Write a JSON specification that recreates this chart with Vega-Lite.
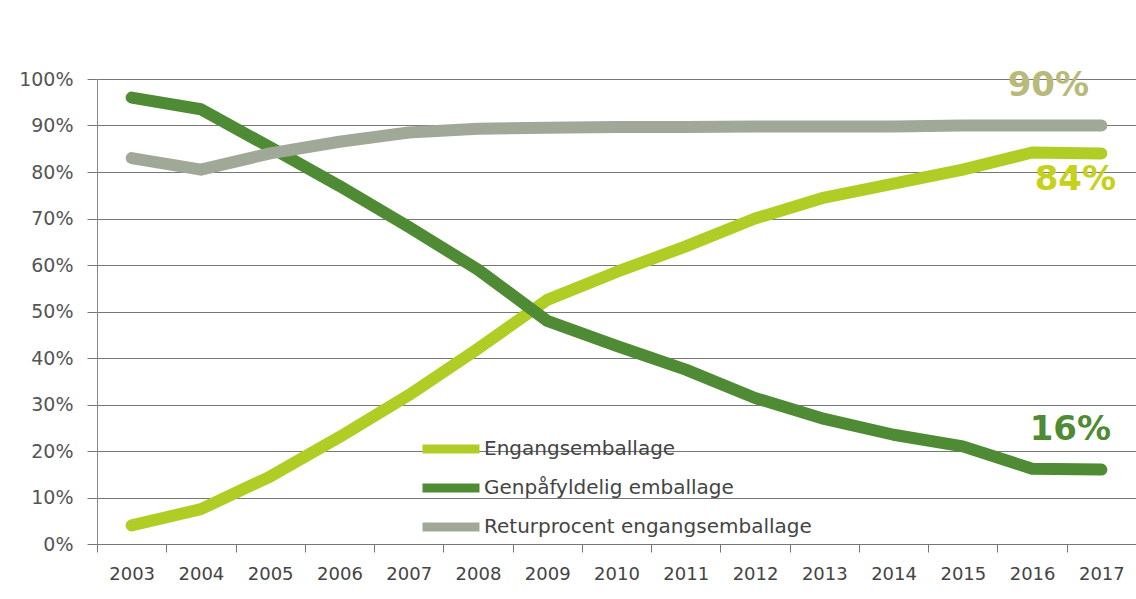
{
  "$schema": "https://vega.github.io/schema/vega-lite/v6.json",
  "width": 1039,
  "height": 465,
  "autosize": {"type": "none"},
  "padding": {"left": 97, "top": 79, "right": 0, "bottom": 55},
  "background": "white",
  "config": {"view": {"stroke": null}, "font": "DejaVu Sans"},
  "data": {"values": [
    {"Year": 2003, "Serie": "Engangsemballage", "Andel": 0.04},
    {"Year": 2004, "Serie": "Engangsemballage", "Andel": 0.075},
    {"Year": 2005, "Serie": "Engangsemballage", "Andel": 0.145},
    {"Year": 2006, "Serie": "Engangsemballage", "Andel": 0.23},
    {"Year": 2007, "Serie": "Engangsemballage", "Andel": 0.32},
    {"Year": 2008, "Serie": "Engangsemballage", "Andel": 0.42},
    {"Year": 2009, "Serie": "Engangsemballage", "Andel": 0.525},
    {"Year": 2010, "Serie": "Engangsemballage", "Andel": 0.585},
    {"Year": 2011, "Serie": "Engangsemballage", "Andel": 0.64},
    {"Year": 2012, "Serie": "Engangsemballage", "Andel": 0.70},
    {"Year": 2013, "Serie": "Engangsemballage", "Andel": 0.745},
    {"Year": 2014, "Serie": "Engangsemballage", "Andel": 0.775},
    {"Year": 2015, "Serie": "Engangsemballage", "Andel": 0.805},
    {"Year": 2016, "Serie": "Engangsemballage", "Andel": 0.842},
    {"Year": 2017, "Serie": "Engangsemballage", "Andel": 0.84},
    {"Year": 2003, "Serie": "Genpåfyldelig emballage", "Andel": 0.96},
    {"Year": 2004, "Serie": "Genpåfyldelig emballage", "Andel": 0.935},
    {"Year": 2005, "Serie": "Genpåfyldelig emballage", "Andel": 0.853},
    {"Year": 2006, "Serie": "Genpåfyldelig emballage", "Andel": 0.77},
    {"Year": 2007, "Serie": "Genpåfyldelig emballage", "Andel": 0.682},
    {"Year": 2008, "Serie": "Genpåfyldelig emballage", "Andel": 0.59},
    {"Year": 2009, "Serie": "Genpåfyldelig emballage", "Andel": 0.48},
    {"Year": 2010, "Serie": "Genpåfyldelig emballage", "Andel": 0.426},
    {"Year": 2011, "Serie": "Genpåfyldelig emballage", "Andel": 0.375},
    {"Year": 2012, "Serie": "Genpåfyldelig emballage", "Andel": 0.314},
    {"Year": 2013, "Serie": "Genpåfyldelig emballage", "Andel": 0.269},
    {"Year": 2014, "Serie": "Genpåfyldelig emballage", "Andel": 0.235},
    {"Year": 2015, "Serie": "Genpåfyldelig emballage", "Andel": 0.21},
    {"Year": 2016, "Serie": "Genpåfyldelig emballage", "Andel": 0.162},
    {"Year": 2017, "Serie": "Genpåfyldelig emballage", "Andel": 0.16},
    {"Year": 2003, "Serie": "Returprocent engangsemballage", "Andel": 0.83},
    {"Year": 2004, "Serie": "Returprocent engangsemballage", "Andel": 0.805},
    {"Year": 2005, "Serie": "Returprocent engangsemballage", "Andel": 0.84},
    {"Year": 2006, "Serie": "Returprocent engangsemballage", "Andel": 0.865},
    {"Year": 2007, "Serie": "Returprocent engangsemballage", "Andel": 0.885},
    {"Year": 2008, "Serie": "Returprocent engangsemballage", "Andel": 0.893},
    {"Year": 2009, "Serie": "Returprocent engangsemballage", "Andel": 0.895},
    {"Year": 2010, "Serie": "Returprocent engangsemballage", "Andel": 0.897},
    {"Year": 2011, "Serie": "Returprocent engangsemballage", "Andel": 0.897},
    {"Year": 2012, "Serie": "Returprocent engangsemballage", "Andel": 0.898},
    {"Year": 2013, "Serie": "Returprocent engangsemballage", "Andel": 0.898},
    {"Year": 2014, "Serie": "Returprocent engangsemballage", "Andel": 0.898},
    {"Year": 2015, "Serie": "Returprocent engangsemballage", "Andel": 0.90},
    {"Year": 2016, "Serie": "Returprocent engangsemballage", "Andel": 0.90},
    {"Year": 2017, "Serie": "Returprocent engangsemballage", "Andel": 0.90}
  ]},
  "encoding": {
    "x": {
      "field": "Year", "type": "ordinal", "bandPosition": 0.5,
      "scale": {"type": "band", "paddingInner": 0, "paddingOuter": 0},
      "axis": {"title": null, "tickBand": "extent", "labelAngle": 0, "labelFontSize": 18, "labelColor": "#444", "labelPadding": 13, "tickSize": 8, "tickColor": "#777", "domainColor": "#777", "grid": false}
    },
    "y": {
      "field": "Andel", "type": "quantitative",
      "scale": {"domain": [0, 1], "nice": false},
      "axis": {"title": null, "values": [0, 0.1, 0.2, 0.3, 0.4, 0.5, 0.6, 0.7, 0.8, 0.9, 1], "format": ".0%", "labelFontSize": 19, "labelColor": "#555", "labelPadding": 14, "tickSize": 10, "tickColor": "#777", "gridColor": "#777", "gridWidth": 1.2, "domainColor": "#888"}
    },
    "color": {
      "field": "Serie", "type": "nominal",
      "scale": {"domain": ["Engangsemballage", "Genpåfyldelig emballage", "Returprocent engangsemballage"], "range": ["#b0cd26", "#4f8b35", "#a0a998"]},
      "legend": {"orient": "none", "legendX": 321, "legendY": 360, "title": null, "symbolType": "stroke", "symbolStrokeWidth": 9, "symbolSize": 3249, "labelFontSize": 20, "labelColor": "#444", "labelLimit": 500, "clipHeight": 20, "rowPadding": 19, "labelOffset": 0, "padding": 0}
    }
  },
  "layer": [
    {
      "transform": [{"filter": "datum.Serie == 'Engangsemballage'"}],
      "mark": {"type": "line", "strokeWidth": 12, "strokeCap": "round", "strokeJoin": "round"}
    },
    {
      "transform": [{"filter": "datum.Serie == 'Genpåfyldelig emballage'"}],
      "mark": {"type": "line", "strokeWidth": 12, "strokeCap": "round", "strokeJoin": "round"}
    },
    {
      "transform": [{"filter": "datum.Serie == 'Returprocent engangsemballage'"}],
      "mark": {"type": "line", "strokeWidth": 12, "strokeCap": "round", "strokeJoin": "round"}
    },
    {
      "transform": [{"filter": "datum.Year == 2017 && datum.Serie == 'Returprocent engangsemballage'"}],
      "mark": {"type": "text", "dx": -53, "dy": -40, "fontSize": 34, "fontWeight": "bold", "color": "#b9b97a"},
      "encoding": {"text": {"field": "Andel", "format": ".0%"}, "color": {"value": "#b9b97a"}}
    },
    {
      "transform": [{"filter": "datum.Year == 2017 && datum.Serie == 'Engangsemballage'"}],
      "mark": {"type": "text", "dx": -26, "dy": 27, "fontSize": 34, "fontWeight": "bold", "color": "#c6d11a"},
      "encoding": {"text": {"field": "Andel", "format": ".0%"}, "color": {"value": "#c6d11a"}}
    },
    {
      "transform": [{"filter": "datum.Year == 2017 && datum.Serie == 'Genpåfyldelig emballage'"}],
      "mark": {"type": "text", "dx": -31, "dy": -40, "fontSize": 34, "fontWeight": "bold", "color": "#4f8b35"},
      "encoding": {"text": {"field": "Andel", "format": ".0%"}, "color": {"value": "#4f8b35"}}
    }
  ]
}
